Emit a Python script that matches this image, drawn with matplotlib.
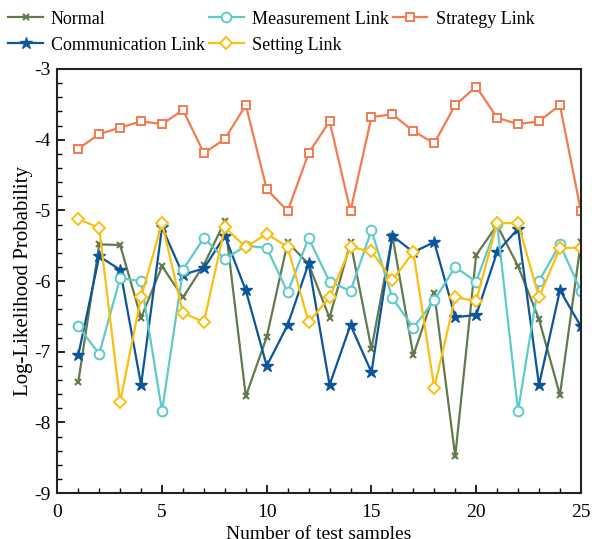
import matplotlib.pyplot as plt
import numpy as np

plt.rcParams['font.family'] = ['Liberation Serif', 'DejaVu Serif']

samples = np.arange(1, 26)
normal = [-7.43, -5.48, -5.49, -6.52, -5.79, -6.23, -5.77, -5.15, -7.63, -6.79,
          -5.45, -5.76, -6.52, -5.45, -6.96, -5.36, -7.05, -6.17, -8.48, -5.63,
          -5.21, -5.79, -6.54, -7.61, -5.45]
measurement = [-6.64, -7.03, -5.96, -6.00, -7.84, -5.84, -5.39, -5.69, -5.50, -5.53,
               -6.16, -5.39, -6.01, -6.14, -5.28, -6.24, -6.66, -6.27, -5.80, -6.01,
               -5.19, -7.84, -6.00, -5.48, -6.14]
strategy = [-4.13, -3.92, -3.83, -3.74, -3.78, -3.58, -4.19, -3.99, -3.51, -4.70,
            -5.01, -4.19, -3.74, -5.01, -3.68, -3.64, -3.88, -4.05, -3.51, -3.25,
            -3.69, -3.78, -3.74, -3.51, -5.01]
communication = [-7.05, -5.65, -5.84, -7.47, -5.24, -5.91, -5.82, -5.36, -6.13, -7.20,
                 -6.62, -5.75, -7.47, -6.62, -7.29, -5.36, -5.59, -5.45, -6.51, -6.48,
                 -5.59, -5.26, -7.47, -6.13, -6.64]
setting = [-5.12, -5.25, -7.71, -6.23, -5.18, -6.45, -6.58, -5.24, -5.52, -5.33,
           -5.52, -6.58, -6.23, -5.52, -5.58, -5.99, -5.59, -7.51, -6.23, -6.28,
           -5.18, -5.18, -6.23, -5.53, -5.53]

fig = plt.figure(figsize=(5.97, 5.39), dpi=100)
ax = fig.add_axes([0.096, 0.085, 0.877, 0.787])

ax.plot(samples, normal, color='#627a4c', marker='x', ms=5, mew=1.5, lw=1.6, label='Normal')
ax.plot(samples, communication, color='#0b559c', marker='*', ms=9, lw=1.6, label='Communication Link')
ax.plot(samples, measurement, color='#5fcaca', marker='o', ms=7, mfc='white', mew=1.4, lw=1.6, label='Measurement Link')
ax.plot(samples, setting, color='#fcbe10', marker='D', ms=6, mfc='white', mew=1.4, lw=1.6, label='Setting Link')
ax.plot(samples, strategy, color='#f47a50', marker='s', ms=6, mfc='white', mew=1.4, lw=1.6, label='Strategy Link')

ax.set_xlim(0, 25)
ax.set_ylim(-9, -3)
ax.set_xticks(np.arange(0, 26, 5))
ax.set_xticks(np.arange(0, 26, 1), minor=True)
ax.set_yticks(np.arange(-9, -2, 1))
ax.set_yticks(np.arange(-9, -2.9, 0.2), minor=True)
ax.set_yticklabels([str(v) for v in range(-9, -2)])
ax.tick_params(which='both', direction='in', labelsize=14, top=False, right=False)
ax.tick_params(axis='x', pad=8)
ax.tick_params(axis='y', pad=5)
ax.tick_params(which='major', length=6, width=1.2)
ax.tick_params(which='minor', length=3.5, width=1.0)
for s in ax.spines.values():
    s.set_linewidth(1.5)
    s.set_color('#222222')

ax.set_xlabel('Number of test samples', fontsize=14, labelpad=3)
ax.set_ylabel('Log-Likelihood Probability', fontsize=15, labelpad=1)

fig.legend(*ax.get_legend_handles_labels(), ncol=3, loc='upper left',
           bbox_to_anchor=(0.008, 0.987), frameon=False,
           fontsize=13, handlelength=1.9, handletextpad=0.45, columnspacing=0.25,
           labelspacing=0.5, borderpad=0.2, borderaxespad=0)

plt.savefig('out.png', dpi=100)
